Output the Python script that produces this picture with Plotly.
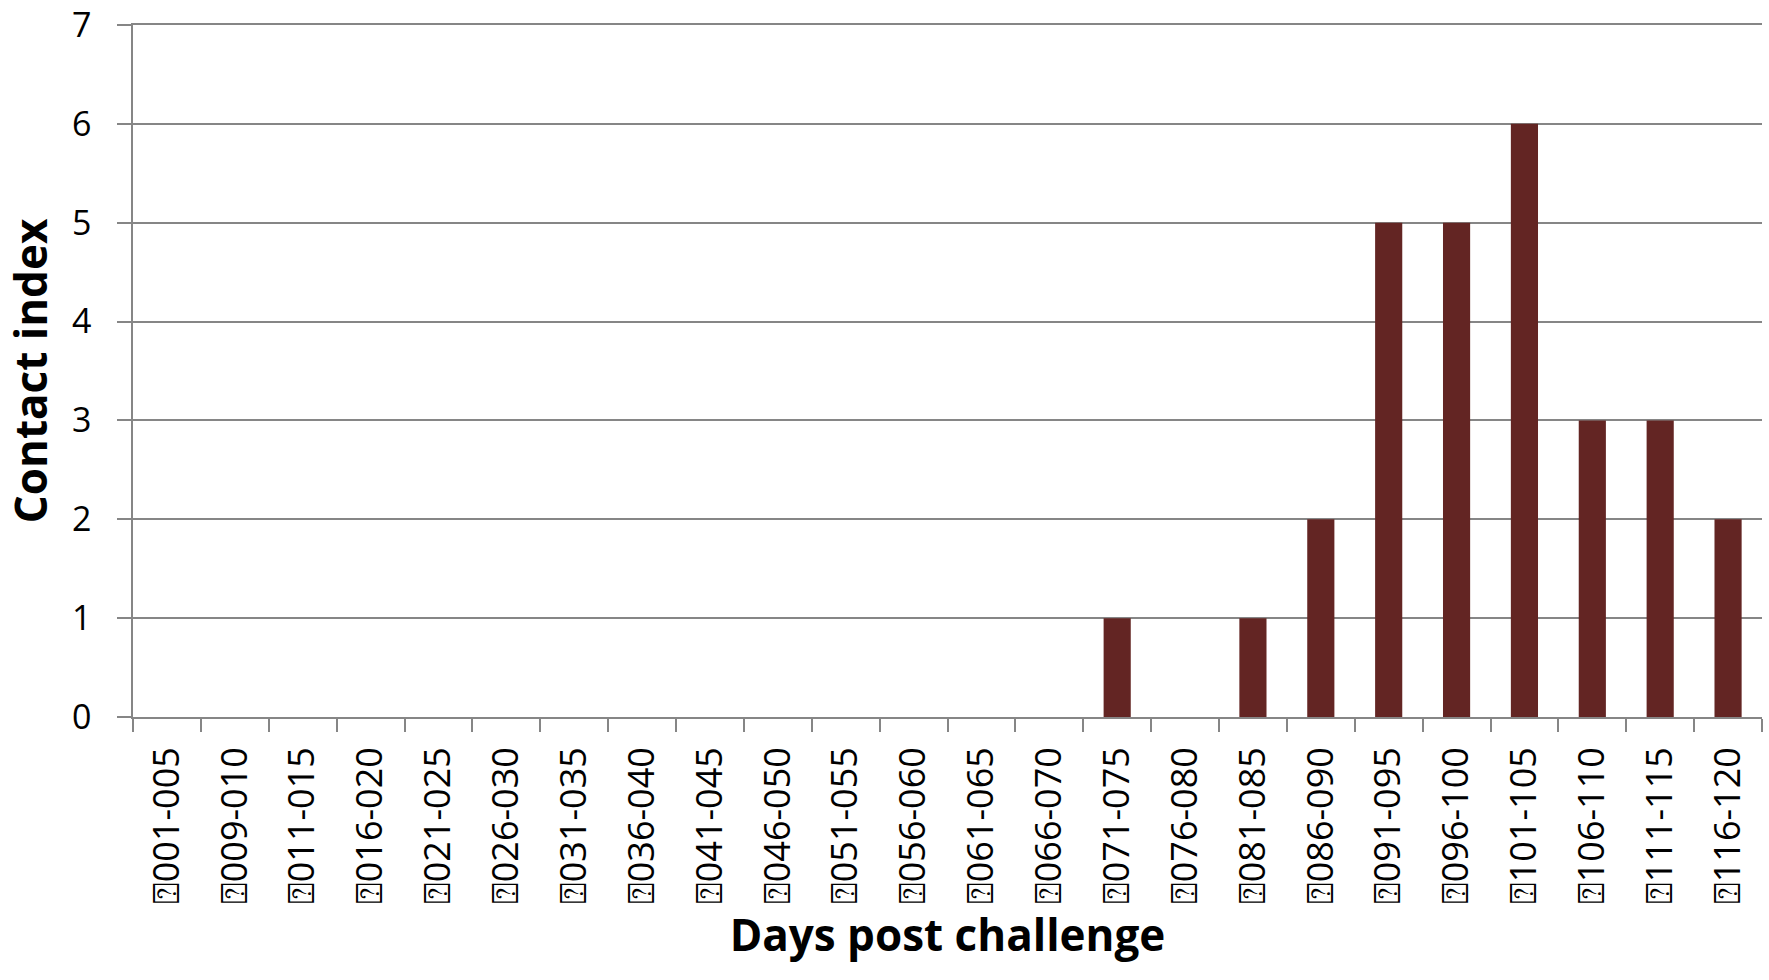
import plotly.graph_objects as go

categories = ["001-005", "009-010", "011-015", "016-020", "021-025", "026-030",
              "031-035", "036-040", "041-045", "046-050", "051-055", "056-060",
              "061-065", "066-070", "071-075", "076-080", "081-085", "086-090",
              "091-095", "096-100", "101-105", "106-110", "111-115", "116-120"]
tick_labels = ["\u2370" + c for c in categories]
contact_index = [0, 0, 0, 0, 0, 0, 0, 0, 0, 0, 0, 0, 0, 0,
                 1, 0, 1, 2, 5, 5, 6, 3, 3, 2]
y_ticks = [0, 1, 2, 3, 4, 5, 6, 7]

FONT = "Open Sans"
GRID = "#868686"

fig = go.Figure(go.Bar(
    x=tick_labels, y=contact_index,
    marker=dict(color="#632523", line=dict(width=0)),
))

fig.update_layout(
    width=1769, height=980,
    margin=dict(l=133, r=7, t=25, b=263, autoexpand=False),
    paper_bgcolor="white", plot_bgcolor="white",
    bargap=0.6, showlegend=False,
    font=dict(family=FONT, color="black"),
)
fig.update_xaxes(
    type="category", tickson="boundaries",
    ticks="outside", ticklen=13, tickcolor=GRID, tickwidth=1.5,
    showline=True, linecolor=GRID, linewidth=1.5, mirror=True,
    tickangle=-90, tickfont=dict(size=36, family=FONT),
    ticklabelstandoff=14,
    title=dict(text="<b>Days post challenge</b>", font=dict(size=44, family=FONT), standoff=14),
    showgrid=False,
)
fig.update_yaxes(
    range=[0, 7], tickvals=y_ticks,
    ticks="outside", ticklen=14, tickcolor=GRID, tickwidth=1.5,
    showline=True, linecolor=GRID, linewidth=1.5,
    showgrid=True, gridcolor=GRID, gridwidth=1.5,
    zeroline=False,
    tickfont=dict(size=34, family=FONT),
    ticklabelstandoff=19, ticklabeloverflow="allow",
    title=dict(text="<b>Contact index</b>", font=dict(size=44, family=FONT), standoff=14),
)

fig.write_html("out.html", config={"displayModeBar": False},
               post_script="document.body.style.margin='0';")
